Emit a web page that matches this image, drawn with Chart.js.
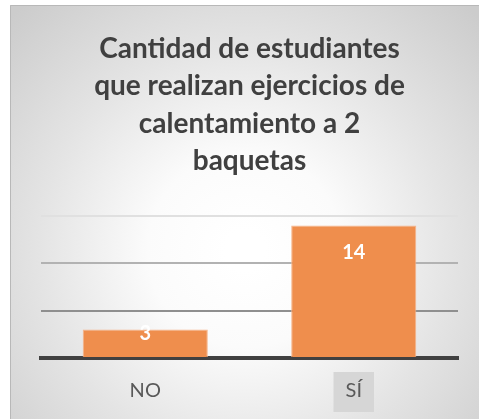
<!DOCTYPE html>
<html>
<head>
<meta charset="utf-8">
<style>
  html, body { margin: 0; padding: 0; background: #fff; }
  #wrap { width: 479px; height: 419px; }
</style>
<script src="https://cdn.jsdelivr.net/npm/chart.js@4"></script>
</head>
<body>
<div id="wrap"><canvas id="chart" width="479" height="419"></canvas></div>
<script>
const categories = ['NO', 'SÍ'];
const values = [3, 14];
const titleLines = [
    'Cantidad de estudiantes',
    'que realizan ejercicios de',
    'calentamiento a 2',
    'baquetas'
];

// gradient panel behind the chart, like the office chart area
const panelBg = {
    id: 'panelBg',
    beforeDraw(chart) {
        const c = chart.ctx;
        const w = chart.width, h = chart.height;
        c.save();
        c.fillStyle = '#ffffff';
        c.fillRect(0, 0, w, h);
        const g = c.createRadialGradient(245, 250, 20, 245, 250, 330);
        g.addColorStop(0, '#ffffff');
        g.addColorStop(0.25, '#fbfbfb');
        g.addColorStop(0.6, '#e4e4e4');
        g.addColorStop(1, '#cccccc');
        c.fillStyle = g;
        c.fillRect(10, 5, w - 10, h - 5);
        c.strokeStyle = '#b8b8b8';
        c.lineWidth = 1;
        c.beginPath();
        c.moveTo(10.5, h);
        c.lineTo(10.5, 5.5);
        c.lineTo(w, 5.5);
        c.stroke();
        c.restore();
    }
};

// value labels inside the top of each bar
const barLabels = {
    id: 'barLabels',
    afterDatasetsDraw(chart) {
        const c = chart.ctx;
        const meta = chart.getDatasetMeta(0);
        c.save();
        c.font = 'bold 20px Lato';
        c.fillStyle = '#ffffff';
        c.textAlign = 'center';
        c.textBaseline = 'middle';
        meta.data.forEach((bar, i) => {
            const h = bar.base - bar.y;
            const y = h > 54 ? bar.y + 27 : bar.y + 4;
            c.fillText(String(values[i]), bar.x, y);
        });
        c.restore();
    }
};

const gridColors = { 5: '#8f8f8f', 10: '#b2b2b2', 15: '#e0e0e0' };

new Chart(document.getElementById('chart'), {
    type: 'bar',
    data: {
        labels: categories,
        datasets: [{
            data: values,
            backgroundColor: '#ef8e4d',
            borderColor: '#f6b48a',
            borderWidth: 1,
            barPercentage: 0.6,
            categoryPercentage: 1
        }]
    },
    options: {
        responsive: false,
        animation: false,
        layout: {
            padding: { left: 41, right: 21, top: 0, bottom: -5 }
        },
        scales: {
            y: {
                min: 0,
                max: 15,
                ticks: { display: false, stepSize: 5 },
                border: { display: false },
                grid: {
                    drawTicks: false,
                    lineWidth: 2,
                    color: (ctx) => gridColors[ctx.tick.value] || 'rgba(0,0,0,0)'
                }
            },
            x: {
                border: { display: true, color: '#404040', width: 4 },
                grid: { display: false, drawTicks: false },
                ticks: {
                    color: '#595959',
                    font: { family: 'Lato', size: 20 },
                    padding: 21,
                    showLabelBackdrop: true,
                    backdropColor: (ctx) => ctx.index === 1 ? '#d6d6d6' : 'rgba(0,0,0,0)',
                    backdropPadding: { top: 7, bottom: 9, left: 12, right: 12 }
                }
            }
        },
        plugins: {
            legend: { display: false },
            tooltip: { enabled: false },
            title: {
                display: true,
                text: titleLines,
                color: '#404040',
                font: { family: 'Lato', size: 28, weight: 'bold', lineHeight: 1.34 },
                padding: { top: 30, bottom: 36 }
            }
        }
    },
    plugins: [panelBg, barLabels]
});
</script>
</body>
</html>
